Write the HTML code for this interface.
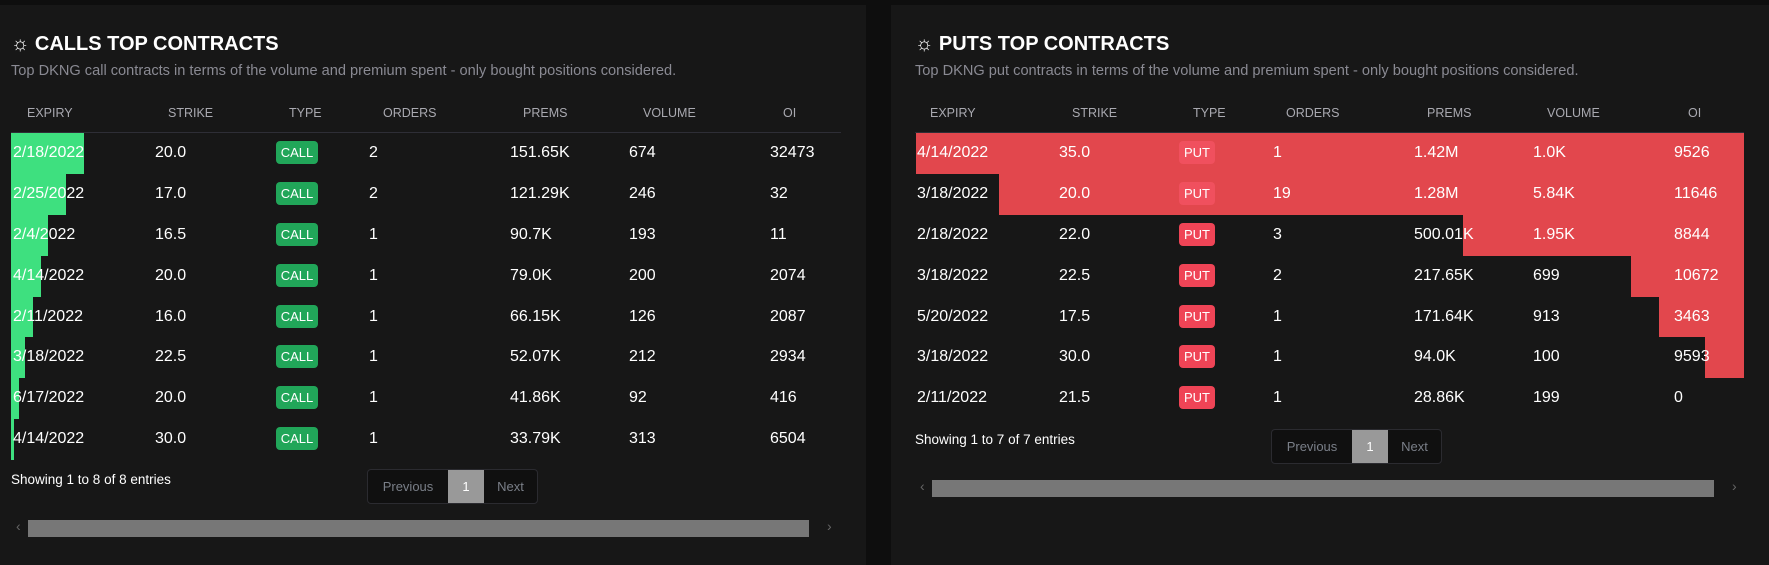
<!DOCTYPE html>
<html><head><meta charset="utf-8">
<style>
*{box-sizing:border-box;margin:0;padding:0}
body{width:1769px;height:556px;background:#0e0e0e;overflow:hidden;font-family:"Liberation Sans",sans-serif;color:#fff;position:relative}
.panel{position:absolute;background:#171717;top:5px;height:560px}
.abs{position:absolute;white-space:nowrap}
.title{font-size:20px;font-weight:bold;top:33px}
.sub{font-size:14.6px;color:#8a8a93;top:63px}
.hdr{font-size:12.5px;color:#a9a9b0;top:106px}
.cell{font-size:16px;color:#fff}
.badge{font-size:13px;height:23px;line-height:23px;text-align:center;border-radius:4px}
.pag{position:absolute;border:1px solid #2b2b30;border-radius:4px;background:#101010;font-size:13px;color:#7a7f88}
.pag span{position:absolute;top:0;bottom:0;display:flex;align-items:center;justify-content:center}
.sb{position:absolute;background:#777;height:17px}
.arr{position:absolute;color:#666;font-size:14px}
</style></head><body>
<div class="panel" style="left:0;width:866px"></div>
<div class="panel" style="left:891px;width:878px"></div>
<div id="root"></div>
<script>
// Calls data
const callExpiry=["2/18/2022","2/25/2022","2/4/2022","4/14/2022","2/11/2022","3/18/2022","6/17/2022","4/14/2022"];
const callStrike=["20.0","17.0","16.5","20.0","16.0","22.5","20.0","30.0"];
const callOrders=[2,2,1,1,1,1,1,1];
const callPrems=[151.65,121.29,90.7,79.0,66.15,52.07,41.86,33.79];
const callPremLabels=["151.65K","121.29K","90.7K","79.0K","66.15K","52.07K","41.86K","33.79K"];
const callVolume=["674","246","193","200","126","212","92","313"];
const callOI=["32473","32","11","2074","2087","2934","416","6504"];
// Puts data
const putExpiry=["4/14/2022","3/18/2022","2/18/2022","3/18/2022","5/20/2022","3/18/2022","2/11/2022"];
const putStrike=["35.0","20.0","22.0","22.5","17.5","30.0","21.5"];
const putOrders=[1,19,3,2,1,1,1];
const putPrems=[1420,1280,500.01,217.65,171.64,94.0,28.86];
const putPremLabels=["1.42M","1.28M","500.01K","217.65K","171.64K","94.0K","28.86K"];
const putVolume=["1.0K","5.84K","1.95K","699","913","100","199"];
const putOI=["9526","11646","8844","10672","3463","9593","0"];

const root=document.getElementById('root');
function mk(cls,txt,style,name,inter){
  const d=document.createElement('div');
  d.className=cls;
  if(txt!==null)d.textContent=txt;
  d.style.cssText=style;
  
  
  root.appendChild(d);return d;
}
function barW(v){const w=(v-28.5)*0.595;return w<1?0:w;}
const ROW0=133,RH=40.8;

function panel(o){
  const L=o.left,T=L+o.tl;
  mk('abs title','☼ '+o.title,`left:${T}px;color:#fff`,'panel-title',false);
  mk('abs sub',o.sub,`left:${T}px`,'panel-subtitle',false);
  const hx=o.hx,vx=o.vx;
  const names=["EXPIRY","STRIKE","TYPE","ORDERS","PREMS","VOLUME","OI"];
  names.forEach((n,i)=>mk('abs hdr',n,`left:${L+hx[i]}px`,'header-'+n.toLowerCase(),true));
  mk('abs','',`left:${T}px;top:132px;width:${o.tw}px;height:1px;background:#2e2e36`,'header-divider',false);
  o.expiry.forEach((e,i)=>{
    const y=ROW0+i*RH;
    const w=barW(o.prems[i]);
    if(w>0){
      if(o.right){
        mk('abs','',`left:${T+o.tw-w}px;top:${y}px;width:${w}px;height:${RH+0.5}px;background:#e2474d`,'prem-bar',false);
      } else {
        mk('abs','',`left:${T}px;top:${y}px;width:${w}px;height:${RH+0.5}px;background:#3ee07f`,'prem-bar',false);
      }
    }
    const ty=y+RH/2-9;
    mk('abs cell',e,`left:${L+vx[0]}px;top:${ty}px`,'expiry-cell',false);
    mk('abs cell',o.strike[i],`left:${L+vx[1]}px;top:${ty}px`,'strike-cell',false);
    const onBar=o.right && w>0 && (T+o.tw-w)<L+vx[2];
    mk('abs badge',o.type,`left:${L+vx[2]}px;top:${y+RH/2-12}px;width:${o.bw}px;background:${o.right?(onBar?'#f0505e':'#ef4456'):'#21a659'}`,'type-badge',false);
    mk('abs cell',String(o.orders[i]),`left:${L+vx[3]}px;top:${ty}px`,'orders-cell',false);
    mk('abs cell',o.premLabels[i],`left:${L+vx[4]}px;top:${ty}px`,'prems-cell',false);
    mk('abs cell',o.volume[i],`left:${L+vx[5]}px;top:${ty}px`,'volume-cell',false);
    mk('abs cell',o.oi[i],`left:${L+vx[6]}px;top:${ty}px`,'oi-cell',false);
  });
  const fy=ROW0+o.expiry.length*RH;
  mk('abs','Showing 1 to '+o.expiry.length+' of '+o.expiry.length+' entries',`left:${T}px;top:${fy+13}px;font-size:13.5px`,'entries-info',false);
  const p=mk('pag',null,`left:${L+o.px}px;top:${fy+10}px;width:171px;height:35px`,'pagination',false);
  p.innerHTML='<span style="left:0;width:80px">Previous</span><span style="left:80px;width:36px;background:#999;color:#fff">1</span><span style="left:116px;width:53px">Next</span>';
  const sy=fy+61;
  mk('arr','‹',`left:${L+o.sx0-12}px;top:${sy-2}px`,'scroll-left',true);
  mk('sb','',`left:${L+o.sx0}px;top:${sy}px;width:${o.sw}px`,'scrollbar-thumb',true);
  mk('arr','›',`left:${L+o.sx0+o.sw+18}px;top:${sy-2}px`,'scroll-right',true);
}
panel({left:0,tl:11,title:'CALLS TOP CONTRACTS',sub:'Top DKNG call contracts in terms of the volume and premium spent - only bought positions considered.',
  hx:[27,168,289,383,523,643,783],vx:[13,155,276,369,510,629,770],tw:830,bw:42,type:'CALL',right:false,
  expiry:callExpiry,strike:callStrike,orders:callOrders,prems:callPrems,premLabels:callPremLabels,volume:callVolume,oi:callOI,
  px:367,sx0:28,sw:781});
panel({left:885,tl:30,title:'PUTS TOP CONTRACTS',sub:'Top DKNG put contracts in terms of the volume and premium spent - only bought positions considered.',
  hx:[45,187,308,401,542,662,803],vx:[32,174,294,388,529,648,789],tw:829,bw:36,type:'PUT',right:true,
  expiry:putExpiry,strike:putStrike,orders:putOrders,prems:putPrems,premLabels:putPremLabels,volume:putVolume,oi:putOI,
  px:386,sx0:47,sw:782});
</script>
</body></html>
